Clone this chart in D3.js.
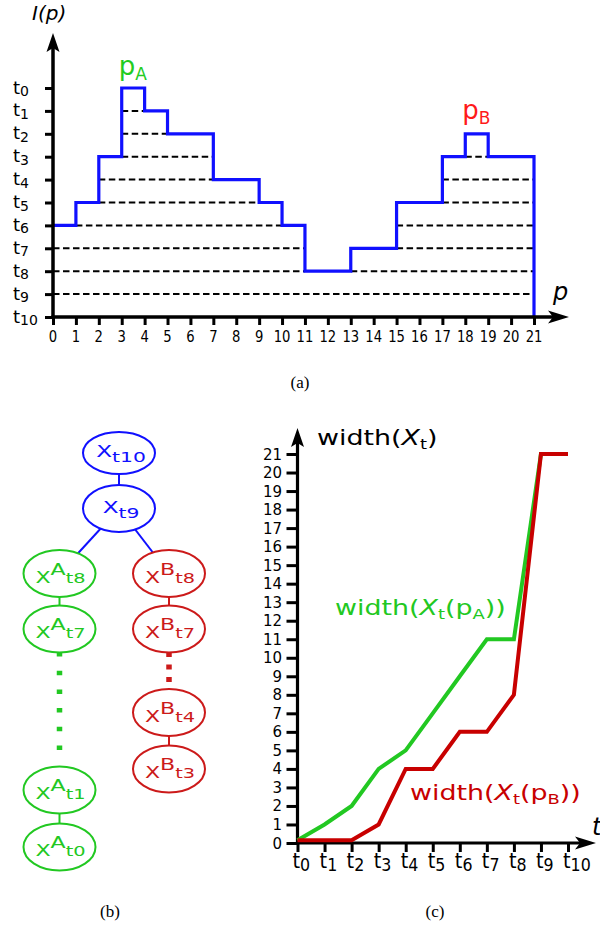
<!DOCTYPE html>
<html><head><meta charset="utf-8">
<script src="https://cdn.jsdelivr.net/npm/d3@7"></script>
<style>body{margin:0;background:#fff} svg{display:block} text{font-family:"DejaVu Sans",sans-serif} text.cap{font-family:"Liberation Serif","DejaVu Serif",serif}</style>
</head><body><svg id="c" width="600" height="930"></svg>
<script>
// ================= DATA =================
// (a) intensity profile: level index k (t_k) of each pixel interval [p, p+1]
const pixels = d3.range(0, 21);
const profileLevels = [6,5,3,0,1,2,2,4,4,5,6,8,8,7,7,5,5,3,2,3,3];
const pTicks = d3.range(0, 22);
const tLevels = d3.range(0, 11);
const peakNames = ["A", "B"];
const peakPixels = [3, 18];
const peakLevels = [0, 2];

// (b) component tree
const nodeIds     = ["r10","r9","a8","a7","a1","a0","b8","b7","b4","b3"];
const nodeBranch  = ["root","root","A","A","A","A","B","B","B","B"];
const nodeT       = [10, 9, 8, 7, 1, 0, 8, 7, 4, 3];
const solidEdges  = [["r10","r9"],["r9","a8"],["r9","b8"],["a8","a7"],["a1","a0"],["b8","b7"],["b4","b3"]];
const dottedEdges = [["a7","a1"],["b7","b4"]];

// (c) width of the component over time
const timeSteps = d3.range(0, 11);
const widthA = [0.15, 1, 2, 4, 5, 7, 9, 11, 11, 21, 21];
const widthB = [0.15, 0.15, 0.15, 1, 4, 4, 6, 6, 8, 21, 21];
const widthTicks = d3.range(0, 22);

// ================= STYLE =================
const BLUE = "#1010ff", GREEN = "#22c822", GREEN_T = "#22cc22", RED = "#c80000", RED_T = "#ff1a1a", RED_N = "#cc1a1a";

const svg = d3.select("#c");

function richText(parent, x, y, parts, opt = {}) {
  const sx = opt.sx || 1;
  const g = parent.append("g").attr("transform", `translate(${x},${y}) scale(${sx},1)`);
  const t = g.append("text").attr("text-anchor", opt.anchor || "start").attr("fill", opt.fill || "#000");
  let cur = 0;
  parts.forEach(p => {
    const off = p.off || 0;
    t.append("tspan").attr("font-size", p.size).attr("dy", off - cur)
      .attr("font-style", p.italic ? "italic" : null).text(p.t);
    cur = off;
  });
  return t;
}
function arrowUp(g, x, y) {
  g.append("path").attr("d", `M${x},${y} L${x+6.5},${y+19} L${x},${y+15} L${x-6.5},${y+19} Z`).attr("fill", "#000");
}
function arrowRight(g, x, y) {
  g.append("path").attr("d", `M${x},${y} L${x-21},${y-6.5} L${x-16},${y} L${x-21},${y+6.5} Z`).attr("fill", "#000");
}
function caption(x, y, s) {
  svg.append("text").attr("class", "cap").attr("x", x).attr("y", y).attr("text-anchor", "middle")
    .attr("font-size", 17).text(s);
}

// ================= (a) =================
const xA = d3.scaleLinear().domain([0, 21]).range([53, 534]);
const yA = d3.scaleLinear().domain([0, 10]).range([88, 317]);
const gA = svg.append("g");

// dashed level lines where the profile is strictly above level k
tLevels.filter(k => k >= 1 && k <= 9).forEach(k => {
  let start = null;
  for (let p = 0; p <= 21; p++) {
    const above = p < 21 && profileLevels[p] < k;
    if (above && start === null) start = p;
    if (!above && start !== null) {
      gA.append("line").attr("x1", xA(start)).attr("x2", xA(p)).attr("y1", yA(k)).attr("y2", yA(k))
        .attr("stroke", "#000").attr("stroke-width", 2).attr("stroke-dasharray", "6.5,3.5");
      start = null;
    }
  }
});

// profile
const profPts = pixels.map(p => [p, profileLevels[p]]);
profPts.push([21, profileLevels[20]]);
const profLine = d3.line().x(d => xA(d[0])).y(d => yA(d[1])).curve(d3.curveStepAfter);
gA.append("path").attr("d", profLine(profPts) + `L${xA(21)},${yA(10)}`)
  .attr("fill", "none").attr("stroke", BLUE).attr("stroke-width", 3.2);

// axes
const yAxisA = d3.axisLeft(yA).tickValues(tLevels).tickSize(8).tickFormat("");
const gyA = gA.append("g").attr("transform", `translate(${xA(0)},0)`).call(yAxisA);
gyA.select(".domain").remove();
gyA.selectAll(".tick line").attr("stroke-width", 3);
const xAxisA = d3.axisBottom(xA).tickValues(pTicks).tickSize(8).tickFormat("");
const gxA = gA.append("g").attr("transform", `translate(0,${yA(10)})`).call(xAxisA);
gxA.select(".domain").remove();
gxA.selectAll(".tick line").attr("stroke-width", 3);
gA.append("line").attr("x1", xA(0)).attr("x2", xA(0)).attr("y1", yA(10) + 1.5).attr("y2", 45).attr("stroke", "#000").attr("stroke-width", 3.5);
gA.append("line").attr("x1", xA(0) - 1.5).attr("x2", 558).attr("y1", yA(10)).attr("y2", yA(10)).attr("stroke", "#000").attr("stroke-width", 3.5);
arrowUp(gA, xA(0), 33);
arrowRight(gA, 569, yA(10));

tLevels.forEach(k => richText(gA, 13, yA(k) + 5.5, [{t: "t", size: 18}, {t: String(k), size: 14, off: 2.5}]));
pTicks.forEach(p => richText(gA, xA(p), 342, [{t: String(p), size: 15.5}], {anchor: "middle", sx: 0.85}));

richText(gA, 32, 20, [{t: "I(p)", size: 20, italic: true}]);
richText(gA, 553, 300, [{t: "p", size: 24, italic: true}]);

peakNames.forEach((n, i) => {
  richText(gA, xA(peakPixels[i]) - 3, yA(peakLevels[i]) - 13 - (i ? 2 : 0),
    [{t: "p", size: 26}, {t: n, size: 17, off: 5}], {fill: i ? RED_T : GREEN_T});
});

caption(300, 388, "(a)");

// ================= (b) =================
const gB = svg.append("g");
const xTree = d3.scaleOrdinal().domain(["root", "A", "B"]).range([119, 59.5, 169]);
const yTreeRoot = d3.scaleLinear().domain([10, 9]).range([453, 508.5]);
const yTreeA = d3.scaleLinear().domain([8, 7]).range([573.5, 629]);
const yTreeA2 = d3.scaleLinear().domain([1, 0]).range([790, 847]);
const yTreeB2 = d3.scaleLinear().domain([4, 3]).range([712.5, 769]);
const nodes = nodeIds.map((id, i) => {
  const b = nodeBranch[i], t = nodeT[i];
  let y;
  if (b === "root") y = yTreeRoot(t);
  else if (t >= 7) y = yTreeA(t);
  else y = b === "A" ? yTreeA2(t) : yTreeB2(t);
  return {id, branch: b, t, x: xTree(b), y};
});
const byId = Object.fromEntries(nodes.map(n => [n.id, n]));
const colorOf = b => b === "root" ? BLUE : b === "A" ? GREEN : RED_N;

solidEdges.forEach(([a, b]) => {
  const na = byId[a], nb = byId[b];
  gB.append("line").attr("x1", na.x).attr("y1", na.y).attr("x2", nb.x).attr("y2", nb.y)
    .attr("stroke", colorOf(na.branch)).attr("stroke-width", 2);
});
dottedEdges.forEach(([a, b]) => {
  const na = byId[a], nb = byId[b];
  const isA = na.branch === "A";
  gB.append("line").attr("x1", na.x).attr("x2", nb.x).attr("y1", na.y + 23).attr("y2", isA ? nb.y - 38 : nb.y - 26)
    .attr("stroke", colorOf(na.branch)).attr("stroke-width", 5.5)
    .attr("stroke-dasharray", isA ? "4.5,14.2" : "5,7.5");
});
nodes.forEach(n => {
  const c = colorOf(n.branch);
  const ry = n.id === "r10" ? 21 : 23.5;
  gB.append("ellipse").attr("cx", n.x).attr("cy", n.y).attr("rx", 36).attr("ry", ry)
    .attr("fill", "#fff").attr("stroke", c).attr("stroke-width", 2);
  if (n.branch === "root") {
    richText(gB, n.x + 2, n.y + 4, [{t: "X", size: 16}, {t: "t" + n.t, size: 14, off: 5}], {anchor: "middle", sx: 1.45, fill: c});
  } else {
    richText(gB, n.x + 1, n.y + 9, [{t: "X", size: 16}, {t: n.branch, size: 16, off: -8}, {t: "t" + n.t, size: 14, off: 0}], {anchor: "middle", sx: 1.38, fill: c});
  }
});
caption(110, 917, "(b)");

// ================= (c) =================
const gC = svg.append("g");
const xC = d3.scaleLinear().domain([0, 10]).range([297.5, 568]);
const yC = d3.scaleLinear().domain([0, 21]).range([843, 454]);

const yAxisC = d3.axisLeft(yC).tickValues(widthTicks).tickSize(11).tickFormat("");
const gyC = gC.append("g").attr("transform", `translate(${xC(0)},0)`).call(yAxisC);
gyC.select(".domain").remove();
gyC.selectAll(".tick line").attr("stroke-width", 3);
const xAxisC = d3.axisBottom(xC).tickValues(timeSteps).tickSize(9).tickFormat("");
const gxC = gC.append("g").attr("transform", `translate(0,${yC(0)})`).call(xAxisC);
gxC.select(".domain").remove();
gxC.selectAll(".tick line").attr("stroke-width", 3);
gC.append("line").attr("x1", xC(0)).attr("x2", xC(0)).attr("y1", yC(0) + 1.5).attr("y2", 440).attr("stroke", "#000").attr("stroke-width", 3.2);
gC.append("line").attr("x1", xC(0) - 1.5).attr("x2", 585).attr("y1", yC(0)).attr("y2", yC(0)).attr("stroke", "#000").attr("stroke-width", 3.2);
arrowUp(gC, xC(0), 428);
arrowRight(gC, 596, yC(0));

widthTicks.forEach(v => richText(gC, 282, yC(v) + 5.5, [{t: String(v), size: 15}], {anchor: "end"}));
timeSteps.forEach(t => richText(gC, xC(t) - 5, 868, [{t: "t", size: 22}, {t: String(t), size: 18, off: 3}], {sx: 0.88}));

const lineC = d3.line().x((d, i) => xC(timeSteps[i])).y(d => yC(d));
gC.append("path").attr("d", lineC(widthA)).attr("fill", "none").attr("stroke", GREEN).attr("stroke-width", 4);
gC.append("path").attr("d", lineC(widthB)).attr("fill", "none").attr("stroke", RED).attr("stroke-width", 4);

richText(gC, 317, 445, [{t: "width(", size: 21}, {t: "X", size: 21, italic: true}, {t: "t", size: 14, off: 4}, {t: ")", size: 21, off: 0}], {sx: 1.28});
richText(gC, 335, 615, [{t: "width(", size: 21}, {t: "X", size: 21, italic: true}, {t: "t", size: 14, off: 4}, {t: "(p", size: 21, off: 0}, {t: "A", size: 14, off: 4}, {t: "))", size: 21, off: 0}], {sx: 1.28, fill: GREEN});
richText(gC, 410, 800, [{t: "width(", size: 21}, {t: "X", size: 21, italic: true}, {t: "t", size: 14, off: 4}, {t: "(p", size: 21, off: 0}, {t: "B", size: 14, off: 4}, {t: "))", size: 21, off: 0}], {sx: 1.28, fill: RED});
richText(gC, 592, 835, [{t: "t", size: 24, italic: true}]);

caption(435, 917, "(c)");
</script></body></html>
